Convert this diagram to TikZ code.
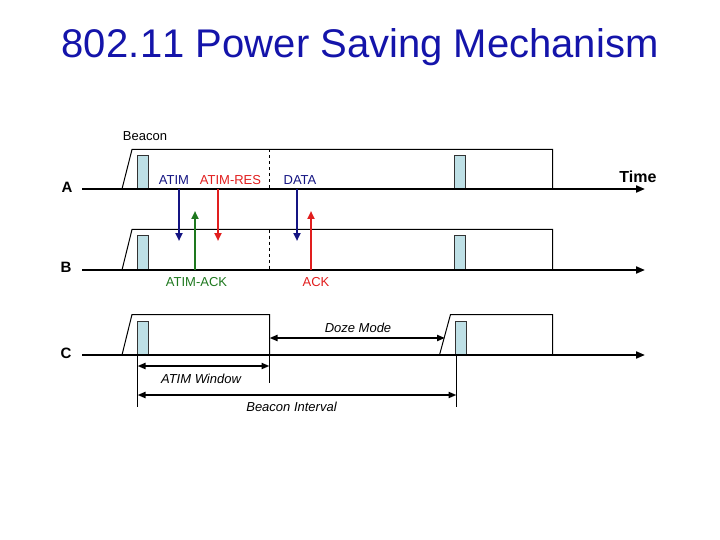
\documentclass[tikz,border=0pt]{standalone}
\usepackage{fontspec}
\setmainfont{Liberation Sans}
\newfontfamily\titlefont[Kerning=Off]{Liberation Sans}
\usetikzlibrary{arrows.meta}
\definecolor{titleblue}{RGB}{20,20,170}
\definecolor{navy}{RGB}{20,20,130}
\definecolor{myred}{RGB}{225,30,30}
\definecolor{mygreen}{RGB}{30,120,30}
\definecolor{beaconfill}{RGB}{190,224,230}
\begin{document}
\begin{tikzpicture}[x=1pt,y=-1pt,
  timeline/.style={line width=2pt,-{Triangle[length=9pt,width=7pt]}},
  outline/.style={line width=1pt},
  beaconbox/.style={draw=black!80,line width=1pt,fill=beaconfill},
  msg/.style={line width=2pt,-{Triangle[length=8pt,width=7pt]}},
  dim/.style={line width=2pt,{Triangle[length=8pt,width=6pt]}-{Triangle[length=8pt,width=6pt]}},
  tick/.style={line width=1pt},
  lbl/.style={font=\fontsize{13}{15}\selectfont,inner sep=0pt},
  ilbl/.style={font=\fontsize{13}{15}\selectfont\itshape,inner sep=0pt},
  stn/.style={font=\fontsize{15}{17}\selectfont\bfseries,inner sep=0pt}]
\useasboundingbox (0,0) rectangle (720,540);
\node[font=\titlefont\fontsize{40}{44}\selectfont,text=titleblue,inner sep=0pt] (title) at (360,47) {802.\kern1pt11 Power Saving Mechanism};
% station labels
\node[stn] (A) at (67,187) {A};
\node[stn] (B) at (66,267) {B};
\node[stn] (C) at (66,353) {C};
\node[font=\fontsize{16}{18}\selectfont\bfseries,inner sep=0pt] (time) at (638,177) {Time};
\node[lbl] (beacon) at (145,136) {Beacon};
% coordinates
\coordinate (a0) at (82,189); \coordinate (a1) at (645,189);
\coordinate (b0) at (82,270); \coordinate (b1) at (645,270);
\coordinate (c0) at (82,355); \coordinate (c1) at (645,355);
% outlines A
\draw[outline] (122,189) -- (132,149.5) -- (552.5,149.5) -- (552.5,189);
\draw[outline,dashed] (269.5,149.5) -- (269.5,189);
\draw[beaconbox] (137.5,155.5) rectangle (148.5,189);
\draw[beaconbox] (454.5,155.5) rectangle (465.5,189);
% outlines B
\draw[outline] (122,270) -- (132,229.5) -- (552.5,229.5) -- (552.5,270);
\draw[outline,dashed] (269.5,229.5) -- (269.5,270);
\draw[beaconbox] (137.5,235.5) rectangle (148.5,270);
\draw[beaconbox] (454.5,235.5) rectangle (465.5,270);
% outlines C
\draw[outline] (122,355) -- (132,314.5) -- (269.5,314.5) -- (269.5,355);
\draw[outline] (439.5,355) -- (450.5,314.5) -- (552.5,314.5) -- (552.5,355);
\draw[beaconbox] (137.5,321.5) rectangle (148.5,355);
\draw[beaconbox] (455.5,321.5) rectangle (466.5,355);
% timelines
\draw[timeline] (a0) -- (a1);
\draw[timeline] (b0) -- (b1);
\draw[timeline] (c0) -- (c1);
% messages
\coordinate (m1s) at (179,189); \coordinate (m1e) at (179,241);
\coordinate (m2s) at (195,270); \coordinate (m2e) at (195,211);
\coordinate (m3s) at (218,189); \coordinate (m3e) at (218,241);
\coordinate (m4s) at (297,189); \coordinate (m4e) at (297,241);
\coordinate (m5s) at (311,270); \coordinate (m5e) at (311,211);
\draw[msg,navy] (m1s) -- (m1e);
\draw[msg,mygreen] (m2s) -- (m2e);
\draw[msg,myred] (m3s) -- (m3e);
\draw[msg,navy] (m4s) -- (m4e);
\draw[msg,myred] (m5s) -- (m5e);
\node[lbl,text=navy] (atim) at (174,180) {ATIM};
\node[lbl,text=myred] (atimres) at (230.5,180) {ATIM-RES};
\node[lbl,text=navy] (data) at (300,180.5) {DATA};
\node[lbl,text=mygreen] (atimack) at (196.5,282) {ATIM-ACK};
\node[lbl,text=myred] (ack) at (316,282) {ACK};
% dimension lines
\draw[tick] (137.5,355) -- (137.5,407);
\draw[tick] (269.5,355) -- (269.5,383);
\draw[tick] (456.5,355) -- (456.5,407);
\coordinate (dz0) at (269.5,338); \coordinate (dz1) at (445,338);
\coordinate (aw0) at (137.5,366); \coordinate (aw1) at (269.5,366);
\coordinate (bi0) at (137.5,395); \coordinate (bi1) at (456.5,395);
\draw[dim] (dz0) -- (dz1);
\draw[dim] (aw0) -- (aw1);
\draw[dim] (bi0) -- (bi1);
\node[ilbl] (doze) at (358,327.5) {Doze Mode};
\node[ilbl] (atimw) at (201,378.5) {ATIM Window};
\node[ilbl] (bint) at (291.5,406.5) {Beacon Interval};
\end{tikzpicture}
\end{document}
